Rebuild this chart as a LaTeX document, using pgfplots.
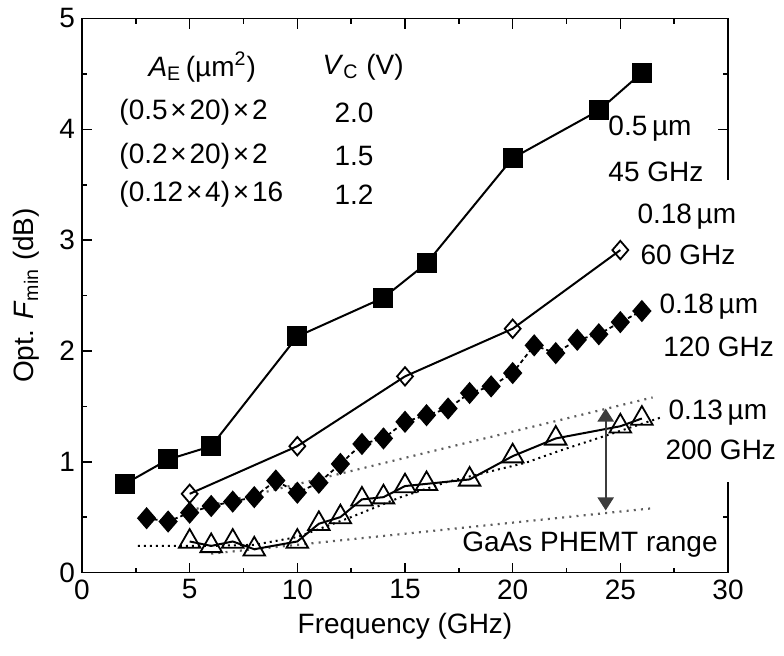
\documentclass[border=0pt]{standalone}
\usepackage{fontspec}
\setmainfont{Liberation Sans}
\usepackage{pgfplots}
\pgfplotsset{compat=1.18}
\usetikzlibrary{arrows.meta}

\definecolor{dotgray}{HTML}{5E5E5E}
\definecolor{arrowgray}{HTML}{3C3C3C}
\newcommand{\x}{\kern1.4pt×\kern1.4pt}

\begin{document}
\begin{tikzpicture}[font=\fontsize{14}{17}\selectfont]
\begin{axis}[
    name=ax,
    scale only axis,
    width=323pt, height=277pt,
    xmin=0, xmax=30, ymin=0, ymax=5,
    xtick={0,5,...,30}, ytick={0,1,...,5},
    minor x tick num=1, minor y tick num=1,
    tick align=inside,
    major tick length=5pt, minor tick length=2.5pt,
    axis line style={line width=0.8pt},
    every tick/.style={black, line width=0.8pt},
    xlabel={Frequency (GHz)},
    ylabel={Opt. \textit{F}\textsubscript{min} (dB)},
    ylabel style={yshift=3pt},
    /pgf/number format/assume math mode=true,
    clip=false,
]
% trend lines (dotted)
\addplot[dotgray, line width=1.1pt, dash pattern=on 1pt off 2.6pt] coordinates {(5,0.56) (26.5,1.58)};
\addplot[dotgray, line width=1.1pt, dash pattern=on 1pt off 2.6pt] coordinates {(6,0.17) (26.5,0.58)};
\addplot[black, line width=1pt, dash pattern=on 1pt off 2pt] coordinates {
    (2.6,0.24) (6,0.24) (8,0.25) (10,0.32) (12.5,0.50) (14.8,0.68) (17,0.82)
    (20.6,0.99) (22.2,1.10) (24.4,1.24) (26.9,1.40)};

% 0.5 um, 45 GHz
\addplot[black, line width=1pt, mark=square*, mark size=4.5pt] coordinates {
    (2,0.80) (4,1.02) (6,1.14) (10,2.13) (14,2.48) (16,2.79) (20,3.74) (24,4.17) (26,4.51)};
% 0.18 um, 60 GHz
\addplot[black, line width=1pt, mark=diamond, mark size=4.6pt,
    mark options={solid, fill=white, line width=0.9pt, xscale=1.15}] coordinates {
    (5,0.71) (10,1.14) (15,1.77) (20,2.20) (25,2.91)};
% 0.18 um, 120 GHz
\addplot[black, line width=0.9pt, dash pattern=on 2pt off 1.5pt, mark=diamond*, mark size=4.9pt,
    mark options={solid, xscale=1.15}] coordinates {
    (3,0.49) (4,0.46) (5,0.54) (6,0.60) (7,0.64) (8,0.68) (9,0.83) (10,0.72)
    (11,0.81) (12,0.98) (13,1.16) (14,1.21) (15,1.36) (16,1.42) (17,1.48)
    (18,1.62) (19,1.68) (20,1.80) (21,2.05) (22,1.98) (23,2.10) (24,2.15)
    (25,2.26) (26,2.36)};
% 0.13 um, 200 GHz
\addplot[black, line width=1pt, mark=triangle, mark size=6.2pt,
    mark options={solid, fill=white, line width=0.9pt}] coordinates {
    (5,0.28) (6,0.24) (7,0.28) (8,0.21) (10,0.28) (11,0.44) (12,0.50) (13,0.66)
    (14,0.68) (15,0.78) (16,0.80) (18,0.84) (20,1.05) (22,1.21) (25,1.32) (26,1.39)};
% GaAs PHEMT range arrow
\addplot[arrowgray, line width=1.1pt, {Triangle[width=8pt,length=6.5pt]}-{Triangle[width=8pt,length=6.5pt]}]
    coordinates {(24.32,0.56) (24.32,1.48)};

% table
\node[anchor=west, inner sep=0pt] at (axis cs:3.07,4.56) {\textit{A}\textsubscript{E}\,(µm\textsuperscript{2})};
\node[anchor=west, inner sep=0pt] at (axis cs:11.15,4.56) {\textit{V}\textsubscript{C} (V)};
\node[anchor=west, inner sep=0pt] at (axis cs:1.72,4.15) {(0.5\x20)\x2};
\node[anchor=west, inner sep=0pt] at (axis cs:1.72,3.76) {(0.2\x20)\x2};
\node[anchor=west, inner sep=0pt] at (axis cs:1.72,3.41) {(0.12\x4)\x16};
\node[inner sep=0pt] at (axis cs:12.63,4.15) {2.0};
\node[inner sep=0pt] at (axis cs:12.63,3.76) {1.5};
\node[inner sep=0pt] at (axis cs:12.63,3.41) {1.2};

\coordinate (gt) at (axis cs:29.55,3.54);
\coordinate (gb) at (axis cs:30.3,0.82);
\coordinate (l1) at (axis cs:24.43,4.01);
\coordinate (l2) at (axis cs:24.43,3.62);
\coordinate (l3) at (axis cs:25.78,3.21);
\coordinate (l4) at (axis cs:25.92,2.87);
\coordinate (l5) at (axis cs:26.80,2.40);
\coordinate (l6) at (axis cs:26.98,2.04);
\coordinate (l7) at (axis cs:27.22,1.44);
\coordinate (l8) at (axis cs:27.08,1.11);
\coordinate (l9) at (axis cs:29.63,0.25);
\end{axis}

\fill[white] (gt) rectangle (gb);
\node[anchor=west, inner sep=0pt] at (l1) {0.5\,µm};
\node[anchor=west, inner sep=0pt] at (l2) {45 GHz};
\node[anchor=west, inner sep=0pt] at (l3) {0.18\,µm};
\node[anchor=west, inner sep=0pt] at (l4) {60 GHz};
\node[anchor=west, inner sep=0pt] at (l5) {0.18\,µm};
\node[anchor=west, inner sep=0pt] at (l6) {120 GHz};
\node[anchor=west, inner sep=0pt] at (l7) {0.13\,µm};
\node[anchor=west, inner sep=0pt] at (l8) {200 GHz};
\node[anchor=east, inner sep=1pt, fill=white] at (l9) {GaAs PHEMT range};

\pgfresetboundingbox
\path[use as bounding box] ([xshift=-41pt,yshift=-41.75pt]ax.south west) rectangle ([xshift=28pt,yshift=9.25pt]ax.north east);
\end{tikzpicture}
\end{document}
